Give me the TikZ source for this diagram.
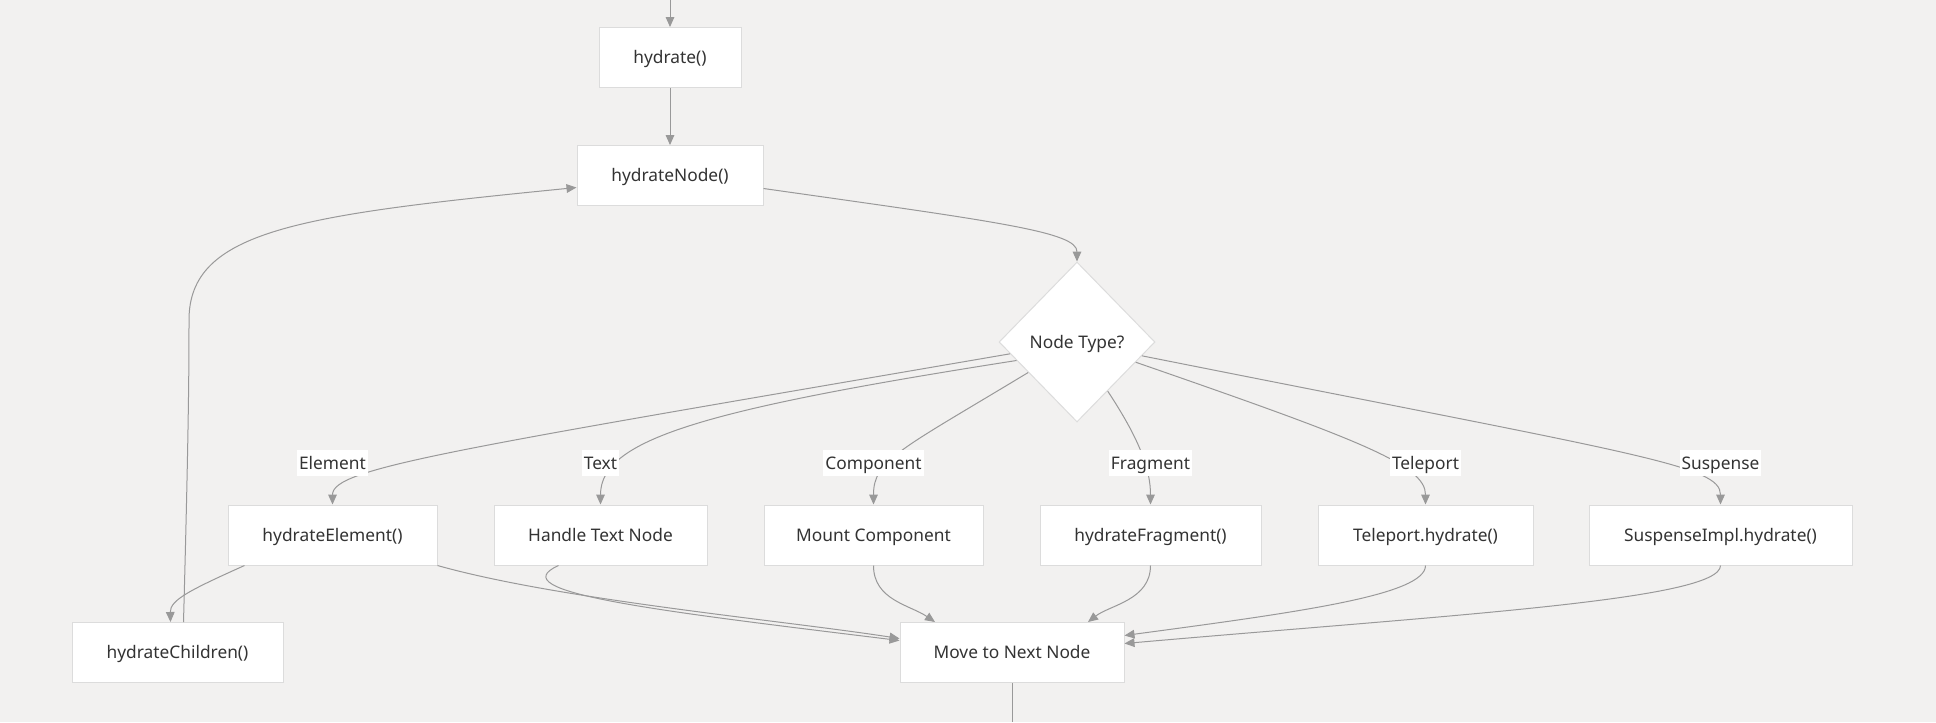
\documentclass[tikz,border=0pt]{standalone}
\usepackage{fontspec}
\setmainfont{Noto Sans}
\usetikzlibrary{shapes.geometric,arrows.meta,calc}
\definecolor{canvas}{HTML}{F2F1F0}
\definecolor{edgegray}{HTML}{999999}
\definecolor{boxline}{HTML}{DCDCDC}
\definecolor{txt}{HTML}{333333}
\tikzset{
  box/.style={draw=boxline, line width=0.75pt, fill=white, minimum height=45pt,
    inner sep=0pt, text=txt, text height=9.3pt, text depth=0pt,
    font=\fontsize{13}{15}\selectfont},
  decision/.style={diamond, draw=boxline, line width=0.75pt, fill=white,
    minimum width=117pt, minimum height=120pt, inner sep=0pt, text=txt,
    text height=9.3pt, text depth=0pt, font=\fontsize{13}{15}\selectfont},
  elabel/.style={fill=white, inner xsep=1.5pt, inner ysep=0pt, minimum height=20pt,
    text=txt, text height=9.3pt, text depth=0pt, font=\fontsize{13}{15}\selectfont},
  flow/.style={draw=edgegray, line width=0.75pt, -{Triangle[length=7.5pt,width=6.5pt]}},
  plain/.style={draw=edgegray, line width=0.75pt},
}
\begin{document}
\begin{tikzpicture}[x=0.75pt, y=-0.75pt]
    % Canvas
    \useasboundingbox (0,0) rectangle (1936,722);
    \fill[canvas] (0,0) rectangle (1936,722);

    % Boxes
    \node[box, minimum width=106.5pt] (hyd) at (670,57.5) {hydrate()};
    \node[box, minimum width=139.5pt] (hNode) at (670,175.5) {hydrateNode()};
    \node[decision] (nt) at (1077,342) {Node Type?};

    \node[box, minimum width=156.75pt] (hElem) at (332.5,535) {hydrateElement()};
    \node[box, minimum width=159.75pt] (hText) at (600.5,535) {Handle Text Node};
    \node[box, minimum width=164.25pt] (mount) at (873.5,535) {Mount Component};
    \node[box, minimum width=165.75pt] (hFrag) at (1150.5,535) {hydrateFragment()};
    \node[box, minimum width=161.25pt] (tele) at (1425.5,535) {Teleport.hydrate()};
    \node[box, minimum width=197.25pt] (susp) at (1720.5,535) {SuspenseImpl.hydrate()};

    \node[box, minimum width=158.25pt] (hChild) at (177.5,652.5) {hydrateChildren()};
    \node[box, minimum width=168pt] (next) at (1012,652.5) {Move to Next Node};

    \coordinate (entry) at (670,0);
    \coordinate (exit) at (1012,722);

    % Main line
    \draw[flow] (entry) -- (hyd);
    \draw[flow] (hyd) -- (hNode);
    \draw[flow] ($(hNode.east)+(0,13)$) .. controls (1000,222) and (1077,232) .. (nt.north);
    \draw[plain] (next) -- (exit);

    % Branches
    \draw[flow] (nt.190) .. controls (450,450) and (332.5,468) .. (hElem.north);
    \draw[flow] (nt.197) .. controls (700,410) and (600.5,440) .. (hText.north);
    \draw[flow] (nt.212) .. controls (900,450) and (873.5,460) .. (mount.north);
    \draw[flow] (nt.302) .. controls (1140,440) and (1150.5,470) .. (hFrag.north);
    \draw[flow] (nt.341) .. controls (1360,440) and (1425.5,465) .. (tele.north);
    \draw[flow] (nt.348) .. controls (1640,455) and (1720.5,465) .. (susp.north);

    % Back to the next node
    \draw[flow] ($(hElem.south west)+(17,0)$) .. controls (190,590) and (170,600) .. ($(hChild.north)+(-7,0)$);
    \draw[flow] ($(hChild.north)+(6,0)$) .. controls (189,420) and (189,360) .. (189,320)
        .. controls (189,230) and (300,215) .. ($(hNode.west)+(0,12)$);
    \draw[flow] (hElem.south east) .. controls (560,600) and (780,620) .. ($(next.west)+(0,-14)$);
    \draw[flow] ($(hText.south west)+(65,0)$) .. controls (500,592) and (650,610) .. ($(next.west)+(0,-12)$);
    \draw[flow] (mount.south) .. controls (873.5,600) and (910,605) .. ($(next.north)+(-77,0)$);
    \draw[flow] (hFrag.south) .. controls (1150.5,600) and (1110,605) .. ($(next.north)+(76,0)$);
    \draw[flow] (tele.south) .. controls (1425.5,595) and (1300,612) .. ($(next.east)+(0,-17)$);
    \draw[flow] (susp.south) .. controls (1720.5,600) and (1450,615) .. ($(next.east)+(0,-9)$);

    % Edge labels
    \node[elabel] (lElem) at (332.5,463) {Element};
    \node[elabel] (lText) at (600.5,463) {Text};
    \node[elabel] (lComp) at (873.5,463) {Component};
    \node[elabel] (lFrag) at (1150.5,463) {Fragment};
    \node[elabel] (lTele) at (1425.5,463) {Teleport};
    \node[elabel] (lSusp) at (1720.5,463) {Suspense};
\end{tikzpicture}
\end{document}
